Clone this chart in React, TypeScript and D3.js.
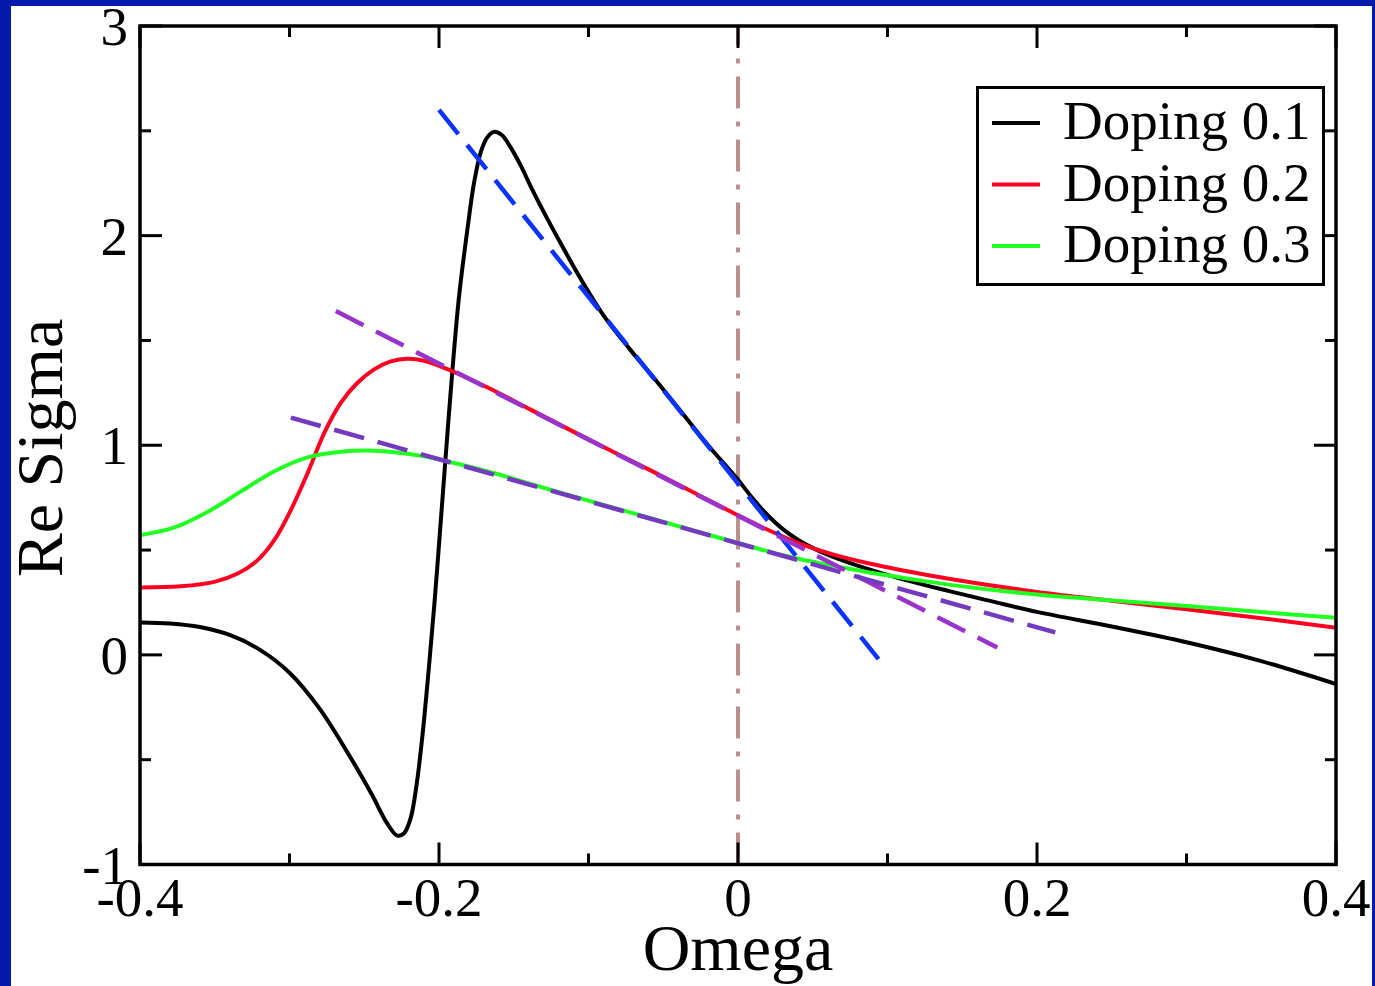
import React from "react";
import * as d3 from "d3";

const xTickMajor = [-0.4, -0.2, 0, 0.2, 0.4];
const xTickLabels = ["-0.4", "-0.2", "0", "0.2", "0.4"];
const xTickMinor = [-0.3, -0.1, 0.1, 0.3];
const yTickMajor = [-1, 0, 1, 2, 3];
const yTickLabels = ["-1", "0", "1", "2", "3"];
const yTickMinor = [-0.5, 0.5, 1.5, 2.5];

const seriesNames = ["Doping 0.1", "Doping 0.2", "Doping 0.3"];
const seriesColors = ["#000000", "#ff0022", "#22ff22"];

const doping01: [number, number][] = [
  [-0.4, 0.155], [-0.38, 0.15], [-0.36, 0.133], [-0.34, 0.095], [-0.32, 0.025],
  [-0.3, -0.085], [-0.28, -0.255], [-0.26, -0.48], [-0.245, -0.665], [-0.235, -0.8],
  [-0.228, -0.862], [-0.2235, -0.852], [-0.219, -0.78], [-0.215, -0.62], [-0.211, -0.38],
  [-0.207, -0.08], [-0.203, 0.25], [-0.199, 0.62], [-0.1955, 0.95], [-0.191, 1.36],
  [-0.1866, 1.71], [-0.181, 2.03], [-0.1766, 2.25], [-0.172, 2.4], [-0.1676, 2.47],
  [-0.1632, 2.495], [-0.158, 2.48], [-0.152, 2.42], [-0.145, 2.33], [-0.1387, 2.235],
  [-0.1275, 2.08], [-0.1164, 1.935], [-0.1053, 1.795], [-0.09, 1.62], [-0.072, 1.455],
  [-0.055, 1.31], [-0.038, 1.16], [-0.02, 1.0], [0, 0.835], [0.01, 0.745],
  [0.02, 0.665], [0.03, 0.6], [0.04, 0.55], [0.053, 0.5], [0.075, 0.438],
  [0.097, 0.388], [0.12, 0.342], [0.142, 0.303], [0.17, 0.255], [0.2, 0.205],
  [0.25, 0.135], [0.3, 0.06], [0.35, -0.03], [0.4, -0.139],
];

const doping02: [number, number][] = [
  [-0.4, 0.321], [-0.3726, 0.327], [-0.3503, 0.348], [-0.3347, 0.388], [-0.3213, 0.452],
  [-0.3102, 0.547], [-0.2991, 0.691], [-0.2879, 0.867], [-0.2768, 1.058], [-0.2657, 1.202],
  [-0.2545, 1.298], [-0.2434, 1.362], [-0.2323, 1.4], [-0.2211, 1.413], [-0.21, 1.403],
  [-0.1921, 1.356], [-0.1654, 1.268], [-0.1387, 1.17], [-0.1, 1.028], [-0.0585, 0.88],
  [-0.03, 0.776], [-0.0028, 0.676], [0.0195, 0.598], [0.0418, 0.53], [0.064, 0.478],
  [0.0864, 0.438], [0.1086, 0.405], [0.142, 0.362], [0.2, 0.3], [0.25, 0.258],
  [0.3, 0.218], [0.35, 0.175], [0.4, 0.129],
];

const doping03: [number, number][] = [
  [-0.4, 0.571], [-0.3769, 0.608], [-0.3546, 0.683], [-0.3324, 0.78], [-0.3101, 0.876],
  [-0.2879, 0.942], [-0.2657, 0.969], [-0.2478, 0.975], [-0.23, 0.967], [-0.2099, 0.947],
  [-0.1876, 0.912], [-0.1587, 0.858], [-0.1387, 0.815], [-0.1, 0.736], [-0.0585, 0.652],
  [-0.0139, 0.561], [0.0306, 0.474], [0.0529, 0.44], [0.0752, 0.41], [0.0974, 0.382],
  [0.1198, 0.357], [0.142, 0.334], [0.2, 0.288], [0.25, 0.26], [0.3, 0.233],
  [0.35, 0.204], [0.4, 0.177],
];

const tangentBlue: [number, number][] = [[-0.2, 2.6], [0.094, -0.02]];
const tangentViolet: [number, number][] = [[-0.269, 1.64], [0.1734, 0.035]];
const tangentPurple: [number, number][] = [[-0.2991, 1.132], [0.2122, 0.107]];
const zeroLine: [number, number][] = [[0, -1], [0, 3]];

const W = 1375;
const H = 986;
const left = 140, right = 1336, top = 26, bottom = 864.5;
const FONT = "'Liberation Serif', 'Times New Roman', serif";

export default function App() {
  const x = d3.scaleLinear().domain([-0.4, 0.4]).range([left, right]);
  const y = d3.scaleLinear().domain([-1, 3]).range([bottom, top]);
  const curve = d3.line<[number, number]>().x(d => x(d[0])).y(d => y(d[1])).curve(d3.curveCatmullRom.alpha(0.5));
  const straight = d3.line<[number, number]>().x(d => x(d[0])).y(d => y(d[1]));

  const series = [doping01, doping02, doping03];
  const majorLen = 22, minorLen = 11;

  return (
    <svg width={W} height={H} style={{ position: "absolute", left: 0, top: 0, display: "block" }}>
      <rect x={0} y={0} width={W} height={H} fill="#0519ad" />
      <rect x={11} y={6} width={1361} height={H - 6} fill="#ffffff" />

      <defs>
        <clipPath id="plotclip">
          <rect x={left} y={top} width={right - left} height={bottom - top} />
        </clipPath>
      </defs>

      <g clipPath="url(#plotclip)">
        <path d={straight(zeroLine) || ""} stroke="#bc8f8f" strokeWidth={4} fill="none" strokeDasharray="32,13,5,13" />
        {series.map((s, i) => (
          <path key={i} d={curve(s) || ""} stroke={seriesColors[i]} strokeWidth={4} fill="none" strokeLinejoin="round" />
        ))}
        <path d={straight(tangentBlue) || ""} stroke="#0a33ff" strokeWidth={4.5} fill="none" strokeDasharray="31,14" />
        <path d={straight(tangentViolet) || ""} stroke="#9933cc" strokeWidth={4.5} fill="none" strokeDasharray="31,14" />
        <path d={straight(tangentPurple) || ""} stroke="#7339bf" strokeWidth={4.5} fill="none" strokeDasharray="31,14" />
      </g>

      <g stroke="#000" strokeWidth={3}>
        {xTickMajor.map((t, i) => (
          <g key={"xm" + i}>
            <line x1={x(t)} x2={x(t)} y1={bottom} y2={bottom - majorLen} />
            <line x1={x(t)} x2={x(t)} y1={top} y2={top + majorLen} />
          </g>
        ))}
        {xTickMinor.map((t, i) => (
          <g key={"xn" + i}>
            <line x1={x(t)} x2={x(t)} y1={bottom} y2={bottom - minorLen} />
            <line x1={x(t)} x2={x(t)} y1={top} y2={top + minorLen} />
          </g>
        ))}
        {yTickMajor.map((t, i) => (
          <g key={"ym" + i}>
            <line x1={left} x2={left + majorLen} y1={y(t)} y2={y(t)} />
            <line x1={right} x2={right - majorLen} y1={y(t)} y2={y(t)} />
          </g>
        ))}
        {yTickMinor.map((t, i) => (
          <g key={"yn" + i}>
            <line x1={left} x2={left + minorLen} y1={y(t)} y2={y(t)} />
            <line x1={right} x2={right - minorLen} y1={y(t)} y2={y(t)} />
          </g>
        ))}
      </g>

      <rect x={left} y={top} width={right - left} height={bottom - top} fill="none" stroke="#000" strokeWidth={3.5} />

      <g fontFamily={FONT} fontSize={55} fill="#000">
        {xTickMajor.map((t, i) => (
          <text key={"xl" + i} x={x(t)} y={bottom + 51} textAnchor="middle">{xTickLabels[i]}</text>
        ))}
        {yTickMajor.map((t, i) => (
          <text key={"yl" + i} x={128} y={y(t) + 19} textAnchor="end">{yTickLabels[i]}</text>
        ))}
      </g>

      <text x={738} y={970} textAnchor="middle" fontFamily={FONT} fontSize={66} fill="#000">Omega</text>
      <text transform={`translate(62, ${448}) rotate(-90)`} textAnchor="middle" fontFamily={FONT} fontSize={66} fill="#000">Re Sigma</text>

      <rect x={977.5} y={87.5} width={346} height={197} fill="#fff" stroke="#000" strokeWidth={3} />
      {seriesNames.map((n, i) => (
        <g key={"lg" + i}>
          <line x1={992} x2={1040} y1={123 + i * 61.5} y2={123 + i * 61.5} stroke={seriesColors[i]} strokeWidth={4} />
          <text x={1063} y={139 + i * 61.5} fontFamily={FONT} fontSize={55} fill="#000">{n}</text>
        </g>
      ))}
    </svg>
  );
}
